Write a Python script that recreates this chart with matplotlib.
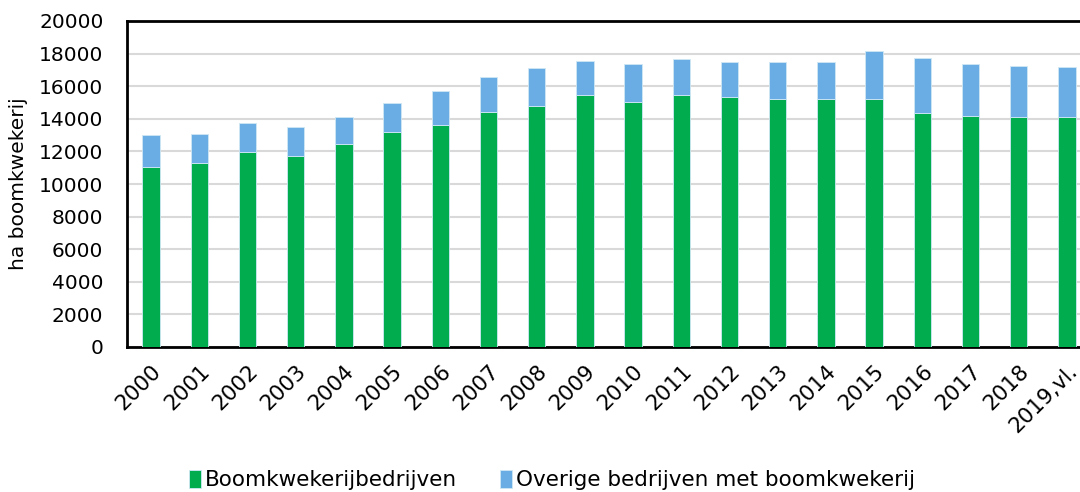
import numpy as np
import matplotlib
matplotlib.use('Agg')
import matplotlib.pyplot as plt

# data (ha)
years = ['2000', '2001', '2002', '2003', '2004', '2005', '2006', '2007', '2008', '2009',
         '2010', '2011', '2012', '2013', '2014', '2015', '2016', '2017', '2018', '2019,vl.']
boomkwekerij = [11050, 11290, 11940, 11720, 12450, 13190, 13620, 14420, 14810, 15440,
                15050, 15460, 15320, 15220, 15220, 15190, 14340, 14170, 14090, 14110]
totaal = [12990, 13050, 13760, 13520, 14130, 14990, 15730, 16590, 17100, 17550,
          17380, 17650, 17460, 17490, 17510, 18180, 17730, 17340, 17220, 17180]
overig = [t - b for t, b in zip(totaal, boomkwekerij)]

green = '#00AC4E'
blue = '#6AADE4'

plt.rcParams['font.family'] = ['DejaVu Sans']
plt.rcParams['font.size'] = 15

fig = plt.figure(figsize=(10.8, 4.92), dpi=100)
ax = fig.add_axes([127 / 1080, 1 - 347 / 492, 964 / 1080, 326 / 492])

x = np.arange(len(years))
ax.bar(x, boomkwekerij, width=0.36, color=green, edgecolor='#cfe8f5', linewidth=0.6,
       label='Boomkwekerijbedrijven', zorder=3)
ax.bar(x, overig, bottom=boomkwekerij, width=0.36, color=blue, edgecolor='#cfe8f5',
       linewidth=0.6, label='Overige bedrijven met boomkwekerij', zorder=3)

ax.set_xlim(-0.5, len(years) - 0.5)
ax.set_ylim(0, 20000)
ax.set_yticks(np.arange(0, 20001, 2000))
ax.yaxis.grid(True, color='#d9d9d9', linewidth=1.5, zorder=0)
ax.set_axisbelow(True)

ax.set_xticks(x)
ax.set_xticklabels(years, rotation=45, ha='right', rotation_mode='anchor', fontsize=15.5)
ax.tick_params(axis='y', length=0, pad=17, labelsize=14.5)
ax.tick_params(axis='x', length=0, pad=10)

for side in ['top', 'left', 'bottom']:
    ax.spines[side].set_linewidth(2)
    ax.spines[side].set_color('black')
ax.spines['right'].set_visible(False)

ax.set_ylabel('ha boomkwekerij', fontsize=14.5)
ax.yaxis.set_label_coords(-99 / 964, 0.5)

fig.legend(loc='center', bbox_to_anchor=(552 / 1080, 1 - 480 / 492), ncol=2, frameon=False,
           fontsize=15.5, handlelength=0.55, handleheight=0.9, handletextpad=0.2,
           columnspacing=2.0)

fig.savefig('out.png', dpi=100)
